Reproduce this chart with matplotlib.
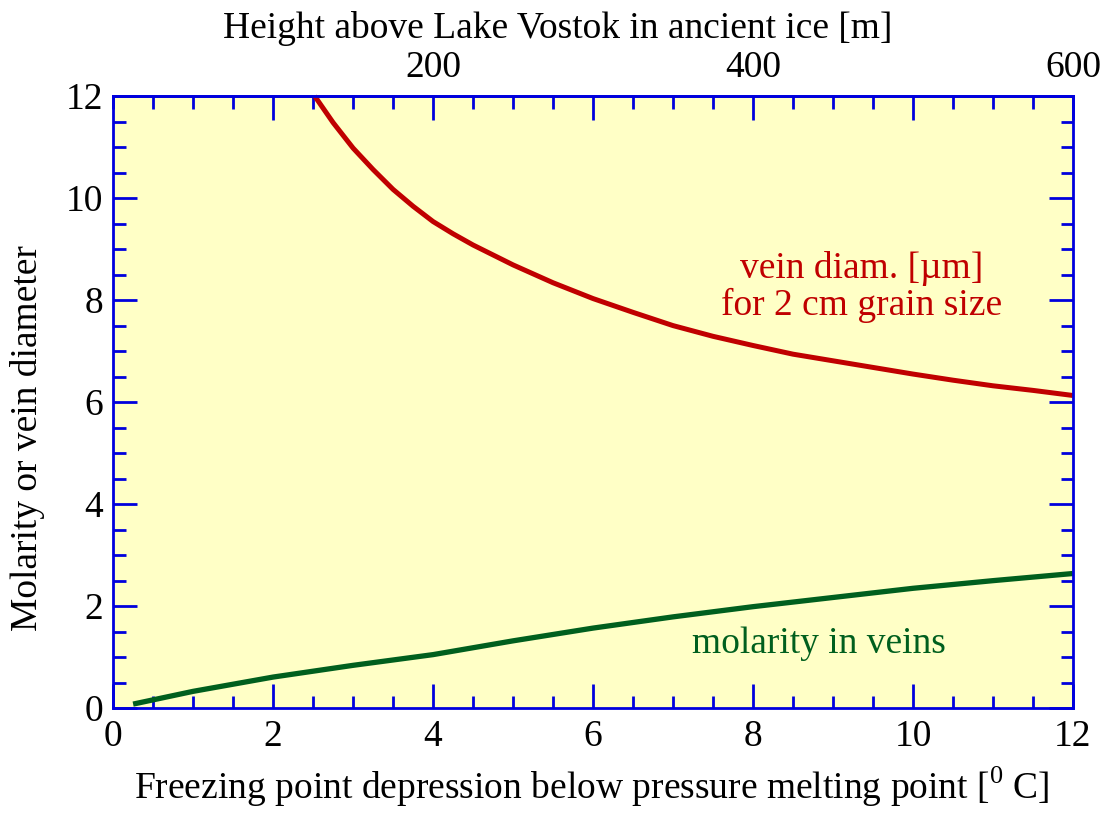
import numpy as np
import matplotlib
matplotlib.use('Agg')
import matplotlib.pyplot as plt
from matplotlib.ticker import MultipleLocator, FixedLocator, FuncFormatter

plt.rcParams['font.family'] = ['Liberation Serif', 'DejaVu Serif']
plt.rcParams['mathtext.fontset'] = 'custom'
plt.rcParams['mathtext.rm'] = 'Liberation Serif'

# ---- data ----
# vein diameter [um] for 2 cm grain size
vein_x = [2.52, 2.75, 3.0, 3.25, 3.5, 3.75, 4.0, 4.25, 4.5, 5.0, 5.5, 6.0, 6.5, 7.0,
          7.5, 8.0, 8.5, 9.0, 9.5, 10.0, 10.5, 11.0, 11.5, 12.0]
vein_y = [12.0, 11.48, 10.98, 10.56, 10.17, 9.84, 9.54, 9.30, 9.08, 8.69, 8.34, 8.03,
          7.76, 7.50, 7.29, 7.11, 6.94, 6.81, 6.68, 6.55, 6.43, 6.32, 6.23, 6.13]

# molarity in veins
mol_x = [0.25, 1, 2, 3, 4, 5, 6, 7, 8, 9, 10, 11, 12]
mol_y = [0.08, 0.33, 0.61, 0.84, 1.05, 1.32, 1.57, 1.79, 1.99, 2.17, 2.35, 2.50, 2.64]

M_PER_DEG = 50.0  # height above lake per degree of depression
top_major = [100, 200, 300, 400, 500, 600]
top_labels = [200, 400, 600]

BLUE = '#0000DD'
RED = '#C00000'
GREEN = '#005F1E'
BG = '#FFFFC6'
FS = 27

fig = plt.figure(figsize=(11.09, 8.14), dpi=100)
ax = fig.add_axes([0.102, 0.130, 0.8655, 0.752])
ax.set_facecolor(BG)

ax.plot(vein_x, vein_y, color=RED, lw=3.6, solid_capstyle='butt',
        solid_joinstyle='round', clip_on=False)
ax.plot(mol_x, mol_y, color=GREEN, lw=3.8, solid_capstyle='butt',
        solid_joinstyle='round', clip_on=False)

ax.set_xlim(0, 12)
ax.set_ylim(0, 12)

ax.xaxis.set_major_locator(MultipleLocator(2))
ax.xaxis.set_minor_locator(MultipleLocator(0.5))
ax.yaxis.set_major_locator(MultipleLocator(2))
ax.yaxis.set_minor_locator(MultipleLocator(0.5))

for s in ax.spines.values():
    s.set_color(BLUE)
    s.set_linewidth(2)

ax.tick_params(which='both', direction='in', color=BLUE, width=2,
               bottom=True, left=True, right=True, top=False, labelsize=FS)
ax.tick_params(which='major', length=17)
ax.tick_params(which='minor', length=9)
ax.tick_params(axis='y', pad=7)
ax.tick_params(axis='x', pad=8)

sec = ax.secondary_xaxis('top', functions=(lambda x: x * M_PER_DEG,
                                           lambda h: h / M_PER_DEG))
sec.xaxis.set_major_locator(FixedLocator(top_major))
sec.xaxis.set_minor_locator(MultipleLocator(25))
sec.xaxis.set_major_formatter(FuncFormatter(
    lambda v, p: f'{int(round(v))}' if int(round(v)) in top_labels else ''))
sec.spines['top'].set_color(BLUE)
sec.spines['top'].set_linewidth(2)
sec.tick_params(which='both', direction='in', color=BLUE, width=2, labelsize=FS, pad=8)
sec.tick_params(which='major', length=17)
sec.tick_params(which='minor', length=9)

# axis titles placed as in the reference
fig.text(0.503, 0.953, 'Height above Lake Vostok in ancient ice [m]',
         fontsize=FS, ha='center', va='baseline')
fig.text(0.534, 0.018, r'Freezing point depression below pressure melting point [$^{0}$ C]',
         fontsize=FS, ha='center', va='baseline')
fig.text(0.025, 0.462, 'Molarity or vein diameter', fontsize=FS,
         rotation=90, ha='center', va='center')

ax.text(9.36, 8.44, 'vein diam. [µm]', color=RED, fontsize=FS,
        ha='center', va='baseline')
ax.text(9.36, 7.71, 'for 2 cm grain size', color=RED, fontsize=FS,
        ha='center', va='baseline')
ax.text(8.83, 1.08, 'molarity in veins', color=GREEN, fontsize=FS,
        ha='center', va='baseline')

fig.savefig('out.png', dpi=100, facecolor='white')
